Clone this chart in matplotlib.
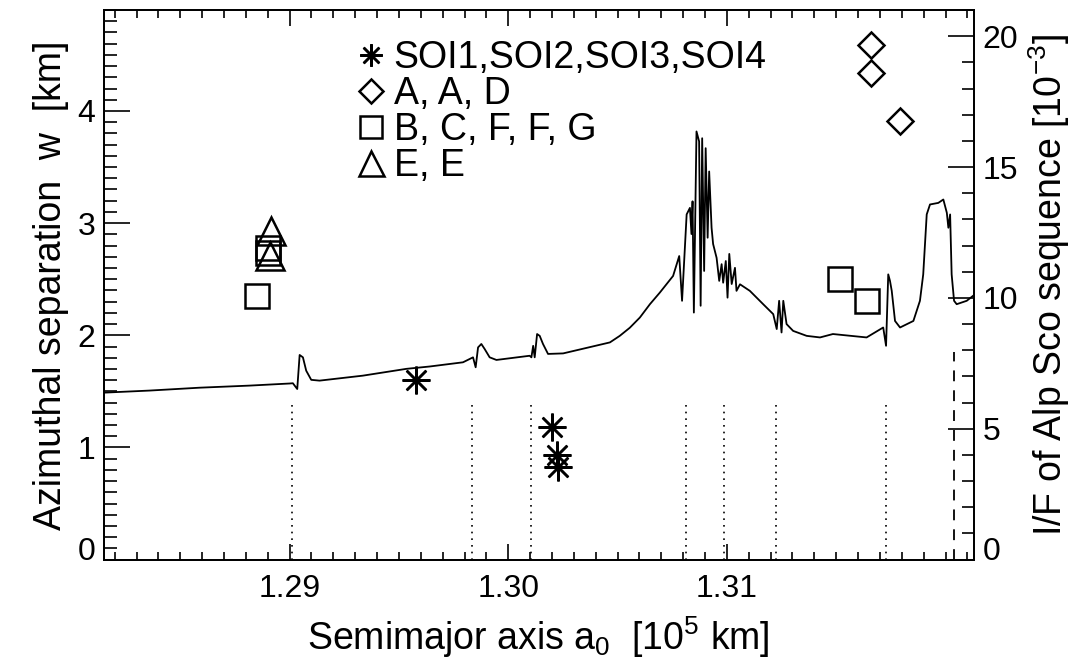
import matplotlib
matplotlib.use("Agg")
import matplotlib.pyplot as plt
from matplotlib.lines import Line2D

plt.rcParams['font.family'] = ['Liberation Sans', 'DejaVu Sans']
plt.rcParams['mathtext.default'] = 'regular'

# I/F profile (right axis, units of 1e-3) vs semimajor axis (1e5 km)
prof_a = [1.28149, 1.28359, 1.28588, 1.28817, 1.29000, 1.29015, 1.29035, 1.29046,
          1.29061, 1.29076, 1.29099, 1.29137, 1.29335, 1.29534, 1.29641, 1.29793,
          1.29839, 1.29851, 1.29862, 1.29877, 1.29892, 1.29915, 1.29946, 1.30098,
          1.30106, 1.30114, 1.30121, 1.30132, 1.30144, 1.30159, 1.30182, 1.30251,
          1.30465, 1.30510, 1.30556, 1.30602, 1.30648, 1.30693, 1.30754, 1.30782,
          1.30795, 1.30816, 1.30831, 1.30838, 1.30843, 1.30849, 1.30861, 1.30873,
          1.30880, 1.30887, 1.30896, 1.30903, 1.30912, 1.30919, 1.30930, 1.30937,
          1.30953, 1.30965, 1.30976, 1.30983, 1.30995, 1.31003, 1.31011, 1.31022,
          1.31037, 1.31044, 1.31060, 1.31105, 1.31166, 1.31212, 1.31228, 1.31239,
          1.31250, 1.31258, 1.31273, 1.31303, 1.31365, 1.31426, 1.31485, 1.31639,
          1.31715, 1.31728, 1.31738, 1.31746, 1.31754, 1.31769, 1.31792, 1.31853,
          1.31883, 1.31898, 1.31914, 1.31929, 1.31967, 1.31990, 1.32006, 1.32013,
          1.32021, 1.32028, 1.32039, 1.32051, 1.32097, 1.32135]
prof_if = [6.38, 6.46, 6.57, 6.65, 6.73, 6.74, 6.52, 7.82,
           7.73, 7.22, 6.87, 6.84, 7.03, 7.29, 7.38, 7.54,
           7.73, 7.35, 8.11, 8.24, 8.05, 7.73, 7.63, 7.79,
           7.73, 8.17, 7.73, 8.62, 8.55, 8.24, 7.86, 7.88,
           8.30, 8.55, 8.86, 9.25, 9.76, 10.20, 10.84, 11.60,
           9.89, 13.19, 13.44, 12.44, 13.69, 9.44, 16.36, 15.98,
           9.70, 16.10, 11.03, 15.72, 12.30, 14.83, 12.68, 12.06,
           11.53, 10.65, 11.29, 10.58, 11.41, 10.01, 11.68, 10.53,
           11.15, 10.27, 10.52, 10.27, 9.76, 9.38, 8.81, 9.89,
           8.68, 9.89, 9.00, 8.74, 8.55, 8.49, 8.62, 8.49,
           8.87, 8.17, 10.90, 10.65, 10.27, 9.12, 8.87, 9.12,
           9.89, 10.90, 13.19, 13.57, 13.63, 13.76, 13.25, 12.68,
           13.19, 10.90, 9.89, 9.76, 9.89, 10.14]

# azimuthal separation w [km] for each group
soi_a = [1.29580, 1.30198, 1.30221, 1.30228]
soi_w = [1.60, 1.18, 0.93, 0.83]
dia_a = [1.31658, 1.31658, 1.31792]
dia_w = [4.59, 4.34, 3.91]
sq_a = [1.28852, 1.28901, 1.28901, 1.31517, 1.31639]
sq_w = [2.35, 2.73, 2.78, 2.50, 2.31]
tri_a = [1.28916, 1.28912]
tri_w = [2.93, 2.71]

# resonance locations
dotted_a = [1.29012, 1.29834, 1.30102, 1.30812, 1.30986, 1.31224, 1.31728]
dashed_a = 1.32039

fig = plt.figure(figsize=(10.75, 6.61), dpi=100)
ax = fig.add_axes([0.0965, 0.1533, 0.8095, 0.8316])
ax2 = ax.twinx()

ax2.plot(prof_a, prof_if, color='k', lw=1.3)
ax2.set_ylim(0, 21)

for a in dotted_a:
    ax.plot([a, a], [0, 1.4], color='k', ls=(0, (1, 3)), lw=1.2)
ax.plot([dashed_a, dashed_a], [0, 1.85], color='k', ls=(0, (6, 5)), lw=1.3)

mk = dict(color='k', mfc='none', ls='none', mew=1.8)
ax.plot(soi_a, soi_w, marker=(8, 2, 0), ms=20, **mk)
ax.plot(dia_a, dia_w, marker='D', ms=13.5, **mk)
ax.plot(sq_a, sq_w, marker='s', ms=17, **mk)
ax.plot(tri_a, tri_w, marker='^', ms=19.5, **mk)

ax.set_xlim(1.2815, 1.3213)
ax.set_ylim(0, 4.9)
ax.set_xticks([1.29, 1.30, 1.31])
ax.set_xticklabels(['1.29', '1.30', '1.31'])
ax.set_xticks([1.282 + 0.001 * i for i in range(40)], minor=True)
ax.set_yticks([0, 1, 2, 3, 4])
ax.set_yticks([0.1 * i for i in range(50)], minor=True)
ax2.set_yticks([0, 5, 10, 15, 20])
ax2.set_yticks(list(range(22)), minor=True)

ax.tick_params(axis='x', which='major', direction='in', top=True, length=11.5, width=1.2, labelsize=23, pad=10)
ax.tick_params(axis='x', which='minor', direction='in', top=True, length=5.8, width=1.2)
ax.tick_params(axis='y', which='major', direction='in', length=18.5, width=1.2, labelsize=23, pad=6)
ax.tick_params(axis='y', which='minor', direction='in', length=9.4, width=1.2)
ax2.tick_params(axis='y', which='major', direction='in', length=18.5, width=1.2, labelsize=23, pad=6)
ax2.tick_params(axis='y', which='minor', direction='in', length=9.0, width=1.2)
for a_ in (ax, ax2):
    for s in a_.spines.values():
        s.set_linewidth(1.3)
    a_.get_yticklabels()[0].set_verticalalignment('baseline')

ax.set_xlabel('Semimajor axis a$_0$  [10$^5$ km]', fontsize=27, labelpad=8)
ax.set_ylabel('Azimuthal separation  w  [km]', fontsize=27, labelpad=6)
ax2.set_ylabel('I/F of Alp Sco sequence [10$^{-3}$]', fontsize=27, labelpad=6)

handles = [Line2D([], [], marker=(8, 2, 0), ms=16, **mk),
           Line2D([], [], marker='D', ms=12, **mk),
           Line2D([], [], marker='s', ms=16, **mk),
           Line2D([], [], marker='^', ms=18, **mk)]
labels = ['SOI1,SOI2,SOI3,SOI4', 'A, A, D', 'B, C, F, F, G', 'E, E']
ax.legend(handles, labels, loc='upper left', bbox_to_anchor=(0.288, 0.945),
          frameon=False, fontsize=27, borderpad=0, borderaxespad=0,
          labelspacing=0.0, handletextpad=0.15, handlelength=0.9)

fig.savefig('out.png', dpi=100)
